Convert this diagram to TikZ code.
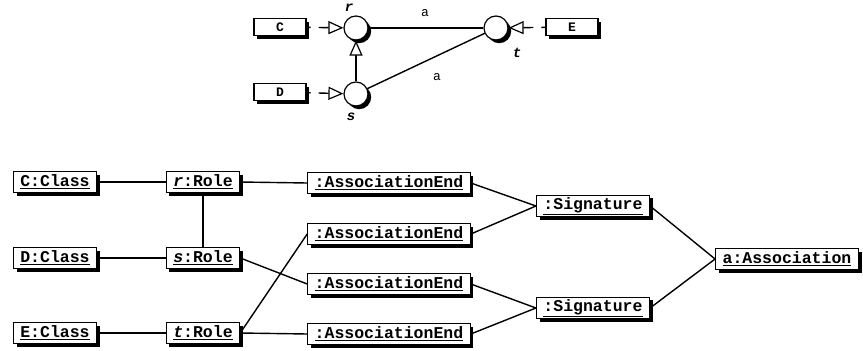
\documentclass[tikz,border=0pt]{standalone}
\usepackage{fontspec}
\setmonofont{Liberation Mono}
\usetikzlibrary{arrows.meta,shadows}

\tikzset{
  shade/.style={drop shadow={shadow xshift=3.2pt, shadow yshift=-3.2pt, fill=black, opacity=1}},
  obj/.style={draw, line width=1.1pt, fill=white, shade, minimum height=21pt,
    inner xsep=7pt, inner ysep=2pt, font=\fontsize{16.5}{18}\selectfont\ttfamily\bfseries},
  cls/.style={draw, line width=1.1pt, fill=white, shade, minimum width=52pt, minimum height=17pt,
    inner sep=1pt, font=\fontsize{13}{15}\selectfont\ttfamily\bfseries},
  rolec/.style={circle, draw, line width=1.2pt, fill=white, shade, minimum size=24pt, inner sep=0pt},
  lbl/.style={font=\fontsize{14}{16}\selectfont\ttfamily\bfseries\itshape, inner sep=0pt},
  alabel/.style={font=\fontsize{13}{15}\selectfont\ttfamily, inner sep=0pt},
  link/.style={line width=1.4pt},
  gentip/.style={-{Triangle[open, fill=white, length=15pt, width=13pt, line width=1.2pt]}},
  dep/.style={link, gentip, dash pattern=on 4pt off 8pt on 30pt},
}

\begin{document}
\begin{tikzpicture}[x=1pt, y=-1pt]
\useasboundingbox (0,0) rectangle (863,351);

% ---- feature diagram ----
\node[cls] (C) at (280,27) {C};
\node[cls] (D) at (280,92) {D};
\node[cls] (E) at (572,27) {E};

\node[rolec] (r) at (356,28) {};
\node[rolec] (s) at (356,94) {};
\node[rolec] (t) at (496,28) {};

\node[lbl] (rl) at (349,8) {r};
\node[lbl] (sl) at (351,117) {s};
\node[lbl] (tl) at (517,53) {t};

\draw[link] (r) -- (t);
\draw[link] (s) -- (t);
\node[alabel] (a1) at (425,13) {a};
\node[alabel] (a2) at (437,77) {a};

\draw[link, gentip] (s) -- (r);
\draw[dep] (C) -- (r);
\draw[dep] (D) -- (s);
\draw[dep] (E) -- (t);

% ---- object structure ----
\node[obj] (Cc) at (55,182) {\underline{C:Class}};
\node[obj] (Dc) at (55,258) {\underline{D:Class}};
\node[obj] (Ec) at (55,333) {\underline{E:Class}};

\node[obj] (rr) at (203,182) {\underline{\textit{r}:Role}};
\node[obj] (sr) at (203,258) {\underline{\textit{s}:Role}};
\node[obj] (tr) at (203,333) {\underline{\textit{t}:Role}};

\node[obj] (ae1) at (389,183) {\underline{:AssociationEnd}};
\node[obj] (ae2) at (389,234) {\underline{:AssociationEnd}};
\node[obj] (ae3) at (389,284) {\underline{:AssociationEnd}};
\node[obj] (ae4) at (389,334) {\underline{:AssociationEnd}};

\node[obj] (sg1) at (593,206) {\underline{:Signature}};
\node[obj] (sg2) at (593,308) {\underline{:Signature}};

\node[obj] (as) at (787,259) {\underline{a:Association}};

\draw[link] (Cc) -- (rr);
\draw[link] (Dc) -- (sr);
\draw[link] (Ec) -- (tr);
\draw[link] (rr) -- (sr);

\draw[link] (rr.east) -- (ae1.west);
\draw[link] (sr.east) -- (ae3.west);
\draw[link] (tr.east) -- (ae2.west);
\draw[link] (tr.east) -- (ae4.west);

\draw[link] (ae1.east) -- (sg1.west);
\draw[link] (ae2.east) -- (sg1.west);
\draw[link] (ae3.east) -- (sg2.west);
\draw[link] (ae4.east) -- (sg2.west);

\draw[link] (sg1.east) -- (as.west);
\draw[link] (sg2.east) -- (as.west);
\end{tikzpicture}
\end{document}
